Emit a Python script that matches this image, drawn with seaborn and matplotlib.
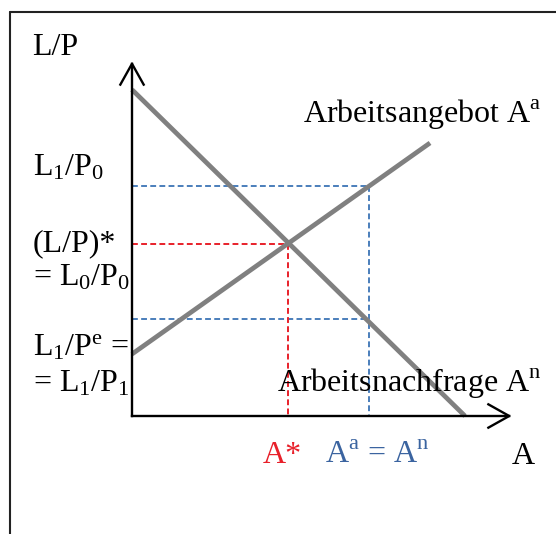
import matplotlib
matplotlib.use("Agg")
import matplotlib.pyplot as plt
from matplotlib.lines import Line2D
import seaborn as sns
import pandas as pd

# ---------------- data (economic units) ----------------
demand_A = [0.0, 10.0]          # Arbeitsnachfrage A^n
demand_LP = [9.8, 0.0]
supply_A = [0.0, 8.95]          # Arbeitsangebot A^a
supply_LP = [1.86, 8.2]
A_star, LP_star = 4.68, 5.17    # equilibrium
A_an = 7.12                     # A^a = A^n
LP_high = 6.9                   # L1/P0
LP_low = 2.91                   # L1/P1
axis_end_A = 11.4
axis_end_LP = 10.65

left_labels = [r"L/P", r"$\mathregular{L_1/P_0}$", r"(L/P)*", r"= $\mathregular{L_0/P_0}$",
               r"$\mathregular{L_1/P^e}$ =", r"= $\mathregular{L_1/P_1}$"]
curve_labels = [r"Arbeitsangebot A$^\mathregular{a}$", r"Arbeitsnachfrage A$^\mathregular{n}$"]
bottom_labels = [r"A*", r"A$^\mathregular{a}$ = A$^\mathregular{n}$", r"A"]

# ---------------- layout ----------------
W, H, DPI = 556, 534, 100
ORIGIN = (132, 416)   # pixel position of axes origin
UNIT = 33.3           # pixels per data unit

sns.set_theme(style="white")
plt.rcParams["font.family"] = ["Liberation Serif", "DejaVu Serif"]
plt.rcParams["mathtext.fontset"] = "custom"
plt.rcParams["mathtext.rm"] = "Liberation Serif"

fig = plt.figure(figsize=(W / DPI, H / DPI), dpi=DPI)
fig.patch.set_facecolor("white")
ax = fig.add_axes([0, 0, 1, 1])
ax.set_xlim(-ORIGIN[0] / UNIT, (W - ORIGIN[0]) / UNIT)
ax.set_ylim(-(H - ORIGIN[1]) / UNIT, ORIGIN[1] / UNIT)
ax.axis("off")

def px(x, y):
    return (x / W, 1 - y / H)

# frame
fig.add_artist(Line2D([px(10, 0)[0], 1], [px(0, 11.5)[1]] * 2, transform=fig.transFigure,
                      color="#222222", lw=1.5))
fig.add_artist(Line2D([px(10, 0)[0]] * 2, [px(0, 11.5)[1], 0], transform=fig.transFigure,
                      color="#222222", lw=1.5))

RED = "#e8202a"
BLUE = "#4a7ebb"
dash_kw = dict(lw=1.4, dashes=(3, 1.7))

# dashed guide lines
ax.plot([0, A_an], [LP_high, LP_high], color=BLUE, **dash_kw)
ax.plot([A_an, A_an], [LP_high, 0], color=BLUE, **dash_kw)
ax.plot([0, A_an], [LP_low, LP_low], color=BLUE, **dash_kw)
ax.plot([0, A_star], [LP_star, LP_star], color=RED, **dash_kw)
ax.plot([A_star, A_star], [LP_star, 0], color=RED, **dash_kw)

# curves
df_d = pd.DataFrame({"A": demand_A, "LP": demand_LP})
df_s = pd.DataFrame({"A": supply_A, "LP": supply_LP})
sns.lineplot(data=df_d, x="A", y="LP", ax=ax, color="#808080", lw=3.4, sort=False,
             solid_capstyle="butt")
sns.lineplot(data=df_s, x="A", y="LP", ax=ax, color="#808080", lw=3.4, sort=False,
             solid_capstyle="butt")
ax.set_xlim(-ORIGIN[0] / UNIT, (W - ORIGIN[0]) / UNIT)
ax.set_ylim(-(H - ORIGIN[1]) / UNIT, ORIGIN[1] / UNIT)
ax.axis("off")

# axes with open arrowheads
arrow = dict(arrowstyle="->,head_length=0.75,head_width=0.42", lw=1.7, color="black",
             mutation_scale=20, shrinkA=0, shrinkB=0, capstyle="projecting")
ax.annotate("", xy=(axis_end_A, 0), xytext=(0, 0), arrowprops=arrow)
ax.annotate("", xy=(0, axis_end_LP), xytext=(0, 0), arrowprops=arrow)

FS = 23
tkw = dict(transform=fig.transFigure, fontsize=FS, ha="left", va="baseline")
left_pos = [(32, 55), (33, 175), (33, 251), (33, 286), (33, 356), (33, 391)]
for lab, (x, y) in zip(left_labels, left_pos):
    fig.text(*px(x, y), lab, color="black", **tkw)

fig.text(*px(303, 123), curve_labels[0], color="black", **tkw)
fig.text(*px(277, 392), curve_labels[1], color="black", **tkw)

fig.text(*px(263, 463), bottom_labels[0], color=RED, **tkw)
fig.text(*px(325, 463), bottom_labels[1], color="#3b64a0", **tkw)
fig.text(*px(512, 464), bottom_labels[2], color="black", **tkw)

fig.savefig("out.png", dpi=DPI, facecolor="white")
